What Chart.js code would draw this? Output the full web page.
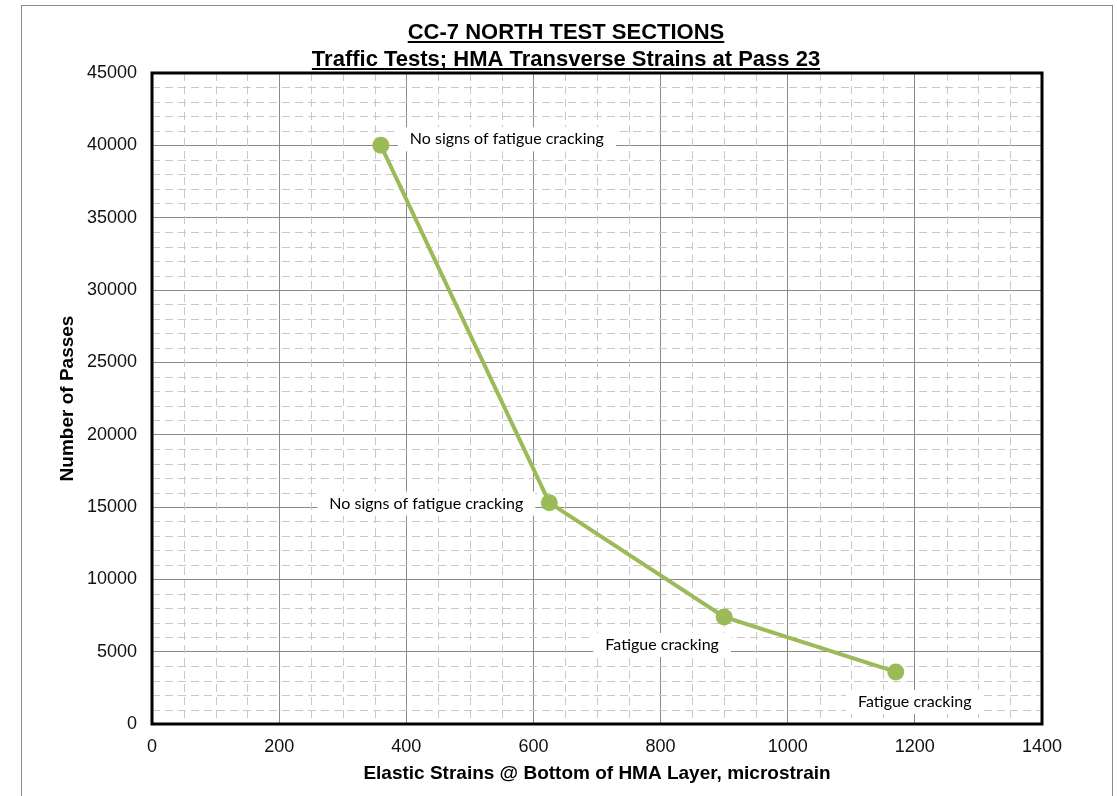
<!DOCTYPE html>
<html>
<head>
<meta charset="utf-8">
<script src="https://cdn.jsdelivr.net/npm/chart.js@4/dist/chart.umd.min.js"></script>
<style>
  html, body { margin: 0; padding: 0; background: #fff; }
  #wrap { width: 1117px; height: 796px; position: relative; }
</style>
</head>
<body>
<div id="wrap"><canvas id="passesChart"></canvas></div>
<script>
// strain (microstrain) vs passes survived
const strains = [360, 625, 900, 1170];
const passes = [40000, 15300, 7400, 3600];
const notes = ['No signs of fatigue cracking', 'No signs of fatigue cracking', 'Fatigue cracking', 'Fatigue cracking'];
const titleLines = ['CC-7 NORTH TEST SECTIONS', 'Traffic Tests; HMA Transverse Strains at Pass 23'];

const green = '#9bbb59';
const arial = '"Liberation Sans", Arial, sans-serif';

// label placement relative to each marker (pixels)
const noteStyle = [
	{dx: 29, dy: -6, align: 'left'},
	{dx: -26, dy: 1, align: 'right'},
	{dx: -62, dy: 28, align: 'center'},
	{dx: 19, dy: 30, align: 'center'}
];

const minorGrid = {
	id: 'minorGrid',
	beforeDatasetsDraw(chart){
		const {ctx, chartArea: a, scales: {x, y}} = chart;
		ctx.save();
		ctx.strokeStyle = '#c8c8c8';
		ctx.lineWidth = 1;
		ctx.setLineDash([8, 5]);
		for(let v = 50; v < 1400; v += 50){
			if(v % 200 === 0) continue;
			const px = Math.round(x.getPixelForValue(v)) + 0.5;
			ctx.beginPath(); ctx.moveTo(px, a.top); ctx.lineTo(px, a.bottom); ctx.stroke();
		}
		for(let v = 1000; v < 45000; v += 1000){
			if(v % 5000 === 0) continue;
			const py = Math.round(y.getPixelForValue(v)) + 0.5;
			ctx.beginPath(); ctx.moveTo(a.left, py); ctx.lineTo(a.right, py); ctx.stroke();
		}
		ctx.restore();

		// note boxes sit on the grid, under the line
		const meta = chart.getDatasetMeta(0);
		ctx.save();
		ctx.font = '16px Lato, "Open Sans", sans-serif';
		ctx.textBaseline = 'middle';
		meta.data.forEach((pt, i) => {
			const s = noteStyle[i];
			const w = ctx.measureText(notes[i]).width;
			let left = pt.x + s.dx;
			if(s.align === 'right') left -= w;
			if(s.align === 'center') left -= w / 2;
			const ty = pt.y + s.dy;
			ctx.fillStyle = '#fff';
			ctx.fillRect(left - 12, ty - 12, w + 24, 24);
			ctx.fillStyle = '#000';
			ctx.textAlign = 'left';
			ctx.fillText(notes[i], left, ty);
		});
		ctx.restore();
	},
	afterDraw(chart){
		const {ctx, chartArea: a} = chart;
		ctx.save();
		// plot frame
		ctx.strokeStyle = '#000';
		ctx.lineWidth = 3;
		ctx.strokeRect(a.left, a.top, a.right - a.left, a.bottom - a.top);
		// outer chart border
		ctx.strokeStyle = '#8c8c8c';
		ctx.lineWidth = 1;
		ctx.strokeRect(21.5, 5.5, 1091, 900);
		// underlined titles
		ctx.fillStyle = '#000';
		ctx.strokeStyle = '#000';
		ctx.textAlign = 'center';
		ctx.textBaseline = 'alphabetic';
		ctx.font = 'bold 22px ' + arial;
		const cx = 566;
		[39, 66].forEach((base, i) => {
			ctx.fillText(titleLines[i], cx, base);
			const w = ctx.measureText(titleLines[i]).width;
			ctx.lineWidth = 2;
			ctx.beginPath();
			ctx.moveTo(cx - w / 2, base + 3); ctx.lineTo(cx + w / 2, base + 3);
			ctx.stroke();
		});
		ctx.restore();
	}
};

new Chart(
	document.getElementById('passesChart'),
	{
		type: 'line',
		data: {
			datasets: [
				{
					label: 'Passes',
					data: strains.map((s, i) => ({x: s, y: passes[i]})),
					borderColor: green,
					backgroundColor: green,
					borderWidth: 4,
					pointRadius: 8.5,
					pointHoverRadius: 8.5,
					pointBorderWidth: 0,
					tension: 0
				}
			]
		},
		options: {
			responsive: true,
			maintainAspectRatio: false,
			animation: false,
			layout: {
				padding: {left: 56, right: 75, top: 73, bottom: 11}
			},
			plugins: {
				legend: {display: false},
				tooltip: {enabled: false}
			},
			scales: {
				x: {
					type: 'linear',
					min: 0,
					max: 1400,
					ticks: {
						stepSize: 200,
						padding: 12,
						color: '#111',
						callback: v => String(v),
						font: {family: arial, size: 18}
					},
					grid: {color: '#8a8a8a', lineWidth: 1, drawTicks: false},
					border: {display: false},
					title: {
						display: true,
						text: 'Elastic Strains @ Bottom of HMA Layer, microstrain',
						color: '#000',
						padding: 0,
						font: {family: arial, size: 19, weight: 'bold'}
					},
					afterFit(scale){ scale.height = 61; }
				},
				y: {
					min: 0,
					max: 45000,
					ticks: {
						stepSize: 5000,
						padding: 15,
						color: '#111',
						callback: v => String(v),
						font: {family: arial, size: 18}
					},
					grid: {color: '#8a8a8a', lineWidth: 1, drawTicks: false},
					border: {display: false},
					title: {
						display: true,
						text: 'Number of Passes',
						color: '#000',
						padding: 0,
						font: {family: arial, size: 19, weight: 'bold'}
					},
					afterFit(scale){ scale.width = 96; }
				}
			}
		},
		plugins: [minorGrid]
	}
);
</script>
</body>
</html>
